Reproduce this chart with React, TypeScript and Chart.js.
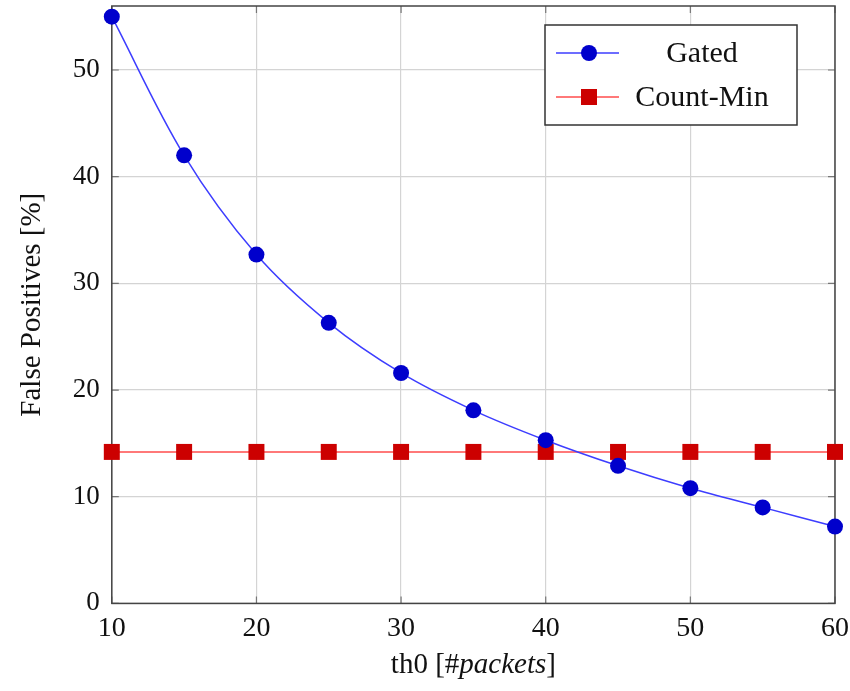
import { useEffect, useRef } from "react";
import { Chart, registerables } from "chart.js";

Chart.register(...registerables);

const thresholds = [10, 15, 20, 25, 30, 35, 40, 45, 50, 55, 60];
const gatedFP = [55.0, 42.0, 32.7, 26.3, 21.6, 18.1, 15.3, 12.9, 10.8, 9.0, 7.2];
const countMinFP = [14.2, 14.2, 14.2, 14.2, 14.2, 14.2, 14.2, 14.2, 14.2, 14.2, 14.2];
const xTickValues = [10, 20, 30, 40, 50, 60];
const yTickValues = [0, 10, 20, 30, 40, 50];
const seriesNames = ["Gated", "Count-Min"];
const xTitleParts = [
  { text: "th0 [#", italic: false },
  { text: "packets", italic: true },
  { text: "]", italic: false },
];

const FONT = "'Liberation Serif', 'DejaVu Serif', serif";

const BLUE_LINE = "#3d3dff";
const BLUE_MARK = "#0000cc";
const RED_LINE = "#ff4d4d";
const RED_MARK = "#cc0000";

function drawMarker(ctx: CanvasRenderingContext2D, style: string, x: number, y: number, color: string) {
  ctx.save();
  ctx.fillStyle = color;
  ctx.beginPath();
  if (style === "circle") {
    ctx.arc(x, y, 8, 0, Math.PI * 2);
  } else {
    ctx.rect(x - 8, y - 8, 16, 16);
  }
  ctx.fill();
  ctx.restore();
}

const framePlugin = {
  id: "frame",
  beforeDatasetsDraw(chart: any) {
    const { ctx, chartArea } = chart;
    const xs = chart.scales.x;
    const ys = chart.scales.y;
    ctx.save();
    ctx.strokeStyle = "#777777";
    ctx.lineWidth = 1.2;
    ctx.beginPath();
    const L = 7;
    xTickValues.forEach((v) => {
      const px = xs.getPixelForValue(v);
      ctx.moveTo(px, chartArea.bottom);
      ctx.lineTo(px, chartArea.bottom - L);
      ctx.moveTo(px, chartArea.top);
      ctx.lineTo(px, chartArea.top + L);
    });
    yTickValues.forEach((v) => {
      const py = ys.getPixelForValue(v);
      ctx.moveTo(chartArea.left, py);
      ctx.lineTo(chartArea.left + L, py);
      ctx.moveTo(chartArea.right, py);
      ctx.lineTo(chartArea.right - L, py);
    });
    ctx.stroke();
    ctx.strokeStyle = "#444444";
    ctx.lineWidth = 1.5;
    ctx.strokeRect(chartArea.left, chartArea.top, chartArea.right - chartArea.left, chartArea.bottom - chartArea.top);
    ctx.restore();
  },
  afterDatasetsDraw(chart: any) {
    const { ctx, chartArea } = chart;
    const w = 252;
    const h = 100;
    const left = chartArea.right - 38 - w;
    const top = chartArea.top + 19;
    ctx.save();
    ctx.fillStyle = "#ffffff";
    ctx.fillRect(left, top, w, h);
    ctx.strokeStyle = "#333333";
    ctx.lineWidth = 1.5;
    ctx.strokeRect(left, top, w, h);
    const rows = [
      { name: seriesNames[0], line: BLUE_LINE, mark: BLUE_MARK, style: "circle", y: top + 28 },
      { name: seriesNames[1], line: RED_LINE, mark: RED_MARK, style: "rect", y: top + 72 },
    ];
    rows.forEach((r) => {
      ctx.strokeStyle = r.line;
      ctx.lineWidth = 1.5;
      ctx.beginPath();
      ctx.moveTo(left + 11, r.y);
      ctx.lineTo(left + 74, r.y);
      ctx.stroke();
      drawMarker(ctx, r.style, left + 44, r.y, r.mark);
      ctx.fillStyle = "#111111";
      ctx.font = `30px ${FONT}`;
      ctx.textAlign = "center";
      ctx.textBaseline = "middle";
      ctx.fillText(r.name, left + 157, r.y + 1);
    });

    // x-axis title with italic part
    const fontFor = (it: boolean) => `${it ? "italic " : ""}29px ${FONT}`;
    let total = 0;
    xTitleParts.forEach((p) => {
      ctx.font = fontFor(p.italic);
      total += ctx.measureText(p.text).width;
    });
    const cx = (chartArea.left + chartArea.right) / 2;
    let x = cx - total / 2;
    const y = chartArea.bottom + 62;
    ctx.fillStyle = "#111111";
    ctx.textAlign = "left";
    ctx.textBaseline = "middle";
    xTitleParts.forEach((p) => {
      ctx.font = fontFor(p.italic);
      ctx.fillText(p.text, x, y);
      x += ctx.measureText(p.text).width;
    });
    ctx.restore();
  },
};

export default function App() {
  const ref = useRef<HTMLCanvasElement | null>(null);

  useEffect(() => {
    document.body.style.margin = "0";
    if (!ref.current) return;
    const chart = new Chart(ref.current, {
      type: "line",
      data: {
        datasets: [
          {
            label: seriesNames[0],
            data: thresholds.map((x, i) => ({ x, y: gatedFP[i] })),
            borderColor: BLUE_LINE,
            borderWidth: 1.5,
            backgroundColor: BLUE_MARK,
            pointBackgroundColor: BLUE_MARK,
            pointBorderColor: BLUE_MARK,
            pointStyle: "circle",
            pointRadius: 8,
            pointBorderWidth: 0,
            tension: 0.35,
            clip: false as any,
          },
          {
            label: seriesNames[1],
            data: thresholds.map((x, i) => ({ x, y: countMinFP[i] })),
            borderColor: RED_LINE,
            borderWidth: 1.5,
            backgroundColor: RED_MARK,
            pointBackgroundColor: RED_MARK,
            pointBorderColor: RED_MARK,
            pointStyle: "rect",
            pointRadius: 11.3,
            pointBorderWidth: 0,
            tension: 0,
            clip: false as any,
          },
        ],
      },
      options: {
        animation: false,
        responsive: false,
        maintainAspectRatio: false,
        layout: { autoPadding: false, padding: { left: 15, right: 15, top: 6, bottom: 38 } },
        plugins: {
          legend: { display: false },
          tooltip: { enabled: false },
        },
        scales: {
          x: {
            type: "linear",
            min: 10,
            max: 60,
            afterBuildTicks: (s: any) => {
              s.ticks = xTickValues.map((v) => ({ value: v }));
            },
            afterFit: (s: any) => {
              s.paddingLeft = 0;
              s.paddingRight = 0;
            },
            ticks: { font: { family: FONT, size: 28 }, color: "#111111", padding: 8 },
            grid: { color: "#d4d4d4", lineWidth: 1.2, drawTicks: false },
            border: { display: false },
          },
          y: {
            type: "linear",
            min: 0,
            max: 56,
            afterBuildTicks: (s: any) => {
              s.ticks = yTickValues.map((v) => ({ value: v }));
            },
            afterFit: (s: any) => {
              s.paddingTop = 0;
              s.paddingBottom = 0;
            },
            ticks: { font: { family: FONT, size: 27 }, color: "#111111", padding: 12 },
            grid: { color: "#d4d4d4", lineWidth: 1.2, drawTicks: false },
            border: { display: false },
            title: {
              display: true,
              text: "False Positives [%]",
              font: { family: FONT, size: 29 },
              color: "#111111",
              padding: { top: 0, bottom: 11 },
            },
          },
        },
      },
      plugins: [framePlugin],
    });
    return () => chart.destroy();
  }, []);

  return (
    <div style={{ width: 850, height: 691 }}>
      <canvas ref={ref} width={850} height={691} style={{ display: "block" }} />
    </div>
  );
}
